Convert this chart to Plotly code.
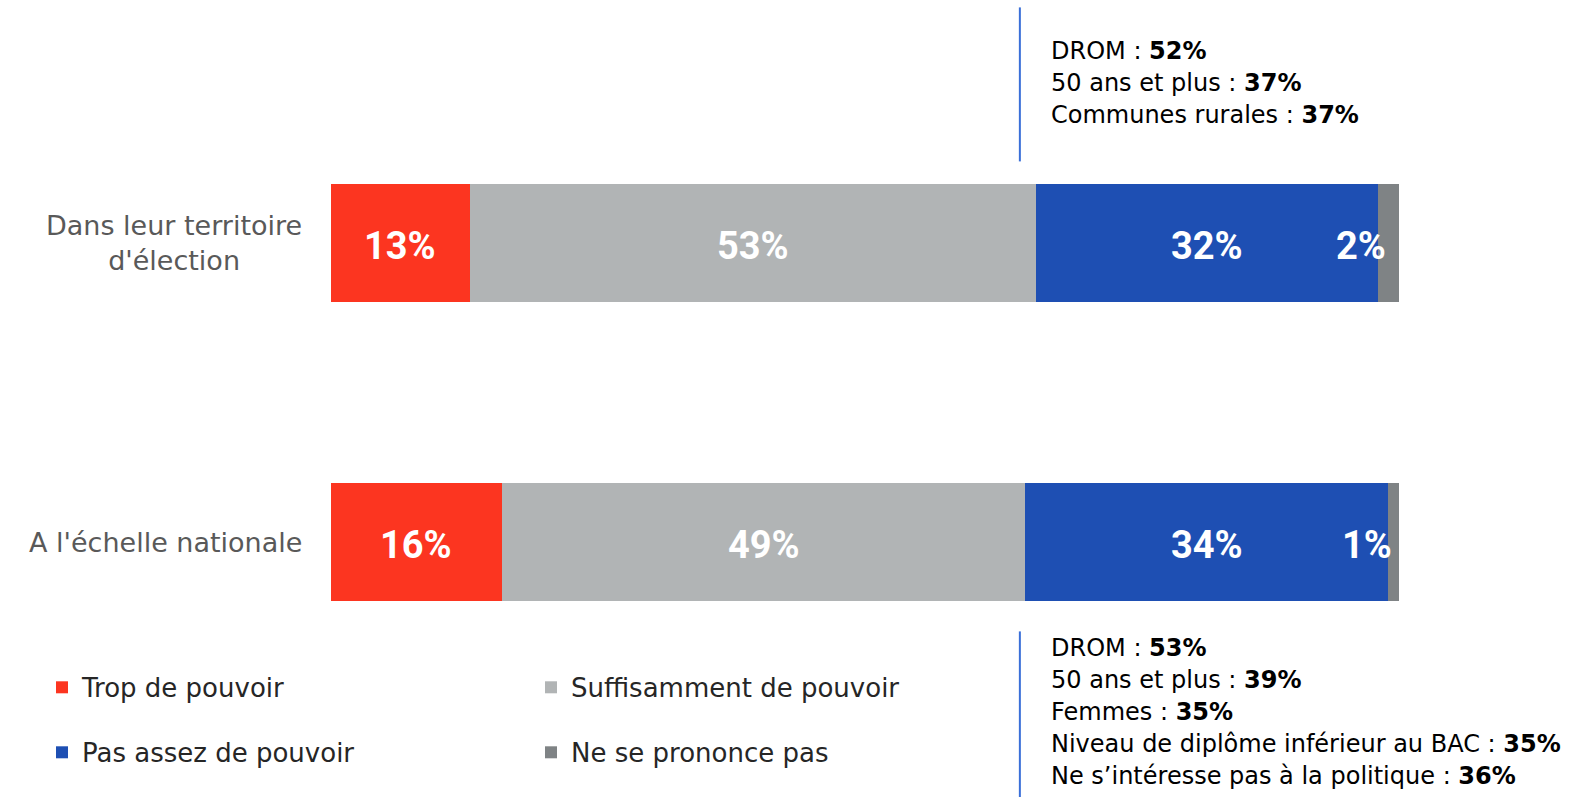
import plotly.graph_objects as go

# ---------------- data ----------------
categories = ["Dans leur territoire<br>d'élection", "A l'échelle nationale"]
series_names = ["Trop de pouvoir", "Suffisamment de pouvoir", "Pas assez de pouvoir", "Ne se prononce pas"]
trop = [13, 16]
suffisamment = [53, 49]
pas_assez = [32, 34]
nsp = [2, 1]
series_values = [trop, suffisamment, pas_assez, nsp]
series_colors = ["#FC3520", "#B1B4B5", "#1E4FB3", "#7F8385"]
legend_ids = ["legend", "legend", "legend2", "legend2"]

detail_top = [("DROM", "52%"), ("50 ans et plus", "37%"), ("Communes rurales", "37%")]
detail_bottom = [("DROM", "53%"), ("50 ans et plus", "39%"), ("Femmes", "35%"),
                 ("Niveau de diplôme inférieur au BAC", "35%"),
                 ("Ne s’intéresse pas à la politique", "36%")]

FONT = "Century Gothic, URW Gothic, DejaVu Sans, sans-serif"
BOLD_FONT = "Roboto, Liberation Sans, sans-serif"

W, H = 1596, 797
L, R, T, B = 331, 197, 63.6, 135.4
plot_h = H - T - B

def py(px):
    """pixel y (from top) -> paper y"""
    return (H - B - px) / plot_h

fig = go.Figure()
for name, vals, col, lg in zip(series_names, series_values, series_colors, legend_ids):
    fig.add_trace(go.Bar(
        y=categories, x=vals, name=name, orientation="h",
        marker=dict(color=col, line=dict(width=0)),
        width=0.395, legend=lg, hoverinfo="skip",
    ))

annotations = []
# value labels
for ci, cat in enumerate(categories):
    start = 0
    for vals in series_values:
        v = vals[ci]
        center = start + v / 2
        small = v < 5
        annotations.append(dict(
            x=center, y=cat, xref="x", yref="y",
            text=f"<b>{v}%</b>", showarrow=False,
            xanchor="right" if small else "center", yanchor="middle",
            yshift=-3,
            font=dict(family=BOLD_FONT, size=38, color="white"),
        ))
        start += v

# category labels (centered multi-line, right edge at axis)
for cat in categories:
    annotations.append(dict(
        x=-0.025, y=cat, xref="paper", yref="y", text=cat, showarrow=False,
        xanchor="right", yanchor="middle", align="center",
        font=dict(family=FONT, size=27, color="#595959"),
    ))

# detail blocks
line_gap = 32
for i, (lab, val) in enumerate(detail_top):
    annotations.append(dict(
        x=67.2, y=py(51 + i * line_gap), xref="x", yref="paper",
        text=f"{lab} : <b>{val}</b>", showarrow=False,
        xanchor="left", yanchor="middle", align="left",
        font=dict(family=FONT, size=24, color="#000000"),
    ))
for i, (lab, val) in enumerate(detail_bottom):
    annotations.append(dict(
        x=67.2, y=py(648 + i * line_gap), xref="x", yref="paper",
        text=f"{lab} : <b>{val}</b>", showarrow=False,
        xanchor="left", yanchor="middle", align="left",
        font=dict(family=FONT, size=24, color="#000000"),
    ))

shapes = [
    dict(type="line", xref="x", yref="paper", x0=64.5, x1=64.5, y0=py(7), y1=py(161),
         line=dict(color="#3A6FD8", width=2)),
    dict(type="line", xref="x", yref="paper", x0=64.5, x1=64.5, y0=py(631), y1=py(797),
         line=dict(color="#3A6FD8", width=2)),
]

legend_common = dict(
    orientation="h", xanchor="left", yanchor="middle",
    font=dict(family=FONT, size=26, color="#262626"),
    entrywidth=444, entrywidthmode="pixels", itemwidth=30,
    bgcolor="rgba(0,0,0,0)", traceorder="normal",
)

fig.update_layout(
    width=W, height=H,
    margin=dict(l=L, r=R, t=T, b=B, pad=0),
    paper_bgcolor="white", plot_bgcolor="white",
    barmode="stack", bargap=0,
    showlegend=True,
    xaxis=dict(range=[0, 100], visible=False, fixedrange=True),
    yaxis=dict(range=[1.4, -0.6], showticklabels=False, showgrid=False,
               zeroline=False, showline=False, ticks="", fixedrange=True),
    legend=dict(x=-0.2706, y=py(687), **legend_common),
    legend2=dict(x=-0.2706, y=py(752), **legend_common),
    annotations=annotations,
    shapes=shapes,
)

fig.write_html("out.html", config={"displayModeBar": False},
               post_script="document.body.style.margin='0';document.body.style.overflow='hidden';")
